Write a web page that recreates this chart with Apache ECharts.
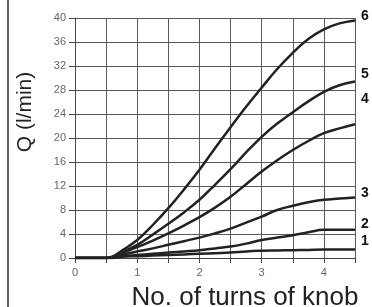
<!DOCTYPE html>
<html>
<head>
<meta charset="utf-8">
<script src="https://cdn.jsdelivr.net/npm/echarts@6/dist/echarts.min.js"></script>
<style>
  html, body { margin: 0; padding: 0; background: #fff; }
  #chart { width: 372px; height: 307px; }
</style>
</head>
<body>
<div id="chart"></div>
<script>
// knob turns (x) sampled every quarter turn, plus the start of the rise
const turns = [0, 0.5, 0.6, 0.75, 1, 1.25, 1.5, 1.75, 2, 2.25, 2.5, 2.75, 3, 3.25, 3.5, 3.75, 4, 4.25, 4.5]

// flow Q (l/min) per curve
const curve1 = [0, 0, 0, 0.2, 0.3, 0.4, 0.5, 0.6, 0.7, 0.8, 0.9, 1.1, 1.2, 1.25, 1.3, 1.35, 1.4, 1.4, 1.4]
const curve2 = [0, 0, 0, 0.3, 0.5, 0.7, 0.9, 1.1, 1.3, 1.6, 1.9, 2.4, 3.0, 3.4, 3.8, 4.3, 4.7, 4.7, 4.7]
const curve3 = [0, 0, 0, 0.5, 1.1, 1.6, 2.2, 2.8, 3.4, 4.1, 4.9, 5.9, 6.9, 8.0, 8.7, 9.3, 9.7, 9.9, 10.1]
const curve4 = [0, 0, 0.1, 0.8, 1.8, 2.9, 4.1, 5.4, 6.8, 8.4, 10.2, 12.3, 14.4, 16.3, 18.0, 19.5, 20.8, 21.6, 22.3]
const curve5 = [0, 0, 0.2, 0.9, 2.2, 3.9, 5.7, 7.6, 9.7, 12.2, 14.8, 17.6, 20.2, 22.4, 24.3, 26.1, 27.7, 28.8, 29.4]
const curve6 = [0, 0, 0.2, 1.2, 3.0, 5.5, 8.3, 11.4, 14.7, 18.3, 21.8, 25.2, 28.4, 31.5, 34.2, 36.5, 38.1, 39.1, 39.6]

const curveNames = ['1', '2', '3', '4', '5', '6']
const curves = [curve1, curve2, curve3, curve4, curve5, curve6]
// vertical nudge of the number beside each curve end
const labelShift = [-8, -6, -4, -25, -7, -4]

const chart = echarts.init(document.getElementById('chart'))

const series = curves.map((values, i) => ({
  name: curveNames[i],
  type: 'line',
  data: values.map((q, j) => [turns[j], q]),
  smooth: 0.4,
  symbol: 'none',
  lineStyle: { color: '#222', width: 2.5 },
  endLabel: {
    show: true,
    formatter: '{a}',
    distance: 6,
    offset: [0, labelShift[i]],
    color: '#111',
    fontFamily: 'Liberation Sans',
    fontWeight: 'bold',
    fontSize: 14
  },
  emphasis: { disabled: true },
  z: 3
}))

const option = {
  animation: false,
  grid: { left: 75, right: 17, top: 18, bottom: 49 },
  xAxis: {
    type: 'value',
    min: 0,
    max: 4.5,
    interval: 0.5,
    axisLine: { lineStyle: { color: '#444', width: 1 } },
    axisTick: { show: true, length: 5, lineStyle: { color: '#444' } },
    axisLabel: {
      margin: 9,
      color: '#666',
      fontFamily: 'Liberation Sans',
      fontSize: 11,
      formatter: v => (v % 1 === 0 && v < 4.5 ? String(v) : '')
    },
    splitLine: { show: true, lineStyle: { color: '#5a5a5a', width: 1 } }
  },
  yAxis: {
    type: 'value',
    min: 0,
    max: 40,
    interval: 4,
    axisLine: { show: true, lineStyle: { color: '#444', width: 1 } },
    axisTick: { show: true, length: 6, lineStyle: { color: '#444' } },
    axisLabel: {
      margin: 9,
      color: '#666',
      fontFamily: 'Liberation Sans',
      fontSize: 11
    },
    splitLine: { show: true, lineStyle: { color: '#5a5a5a', width: 1 } }
  },
  graphic: [
    {
      type: 'line',
      shape: { x1: 8, y1: 0, x2: 8, y2: 307 },
      style: { stroke: '#666', lineWidth: 2 }
    },
    {
      type: 'text',
      x: 25,
      y: 112,
      rotation: Math.PI / 2,
      style: {
        text: 'Q (l/min)',
        fill: '#222',
        font: '21px "Liberation Sans"',
        textAlign: 'center',
        textVerticalAlign: 'middle'
      }
    },
    {
      type: 'text',
      x: 245,
      y: 298,
      style: {
        text: 'No. of turns of knob',
        fill: '#222',
        font: '26px "Liberation Sans"',
        textAlign: 'center',
        textVerticalAlign: 'middle'
      }
    }
  ],
  series: series
}

chart.setOption(option)
</script>
</body>
</html>
